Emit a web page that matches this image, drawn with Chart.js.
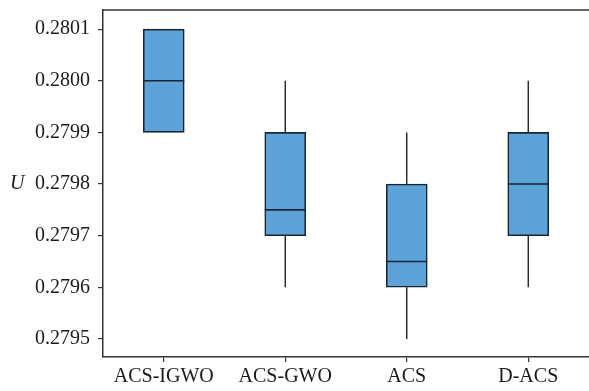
<!DOCTYPE html>
<html>
<head>
<meta charset="utf-8">
<script src="https://cdn.jsdelivr.net/npm/chart.js@4/dist/chart.umd.min.js"></script>
<style>
html,body{margin:0;padding:0;background:#fff;}
#wrap{width:589px;height:391px;position:relative;}
</style>
</head>
<body>
<div id="wrap"><canvas id="boxChart"></canvas></div>
<script>
const categories=["ACS-IGWO","ACS-GWO","ACS","D-ACS"];
const mins=[0.2799,0.2796,0.2795,0.2796];
const q1s=[0.2799,0.2797,0.2796,0.2797];
const medians=[0.2800,0.27975,0.27965,0.2798];
const q3s=[0.2801,0.2799,0.2798,0.2799];
const maxs=[0.2801,0.2800,0.2799,0.2800];
const yTicks=[0.2795,0.2796,0.2797,0.2798,0.2799,0.2800,0.2801];

const serif="'Liberation Serif','DejaVu Serif',serif";
const boxFill="#5ba3d9",boxEdge="#1c2430";

// whiskers + median lines, drawn through the chart scales
const boxExtras={
  id:'boxExtras',
  afterDatasetsDraw(chart){
    const ctx=chart.ctx,x=chart.scales.x,y=chart.scales.y;
    const meta=chart.getDatasetMeta(0);
    ctx.save();
    categories.forEach((c,i)=>{
      const cx=x.getPixelForValue(i),bar=meta.data[i],hw=bar.width/2;
      ctx.strokeStyle="#111";ctx.lineWidth=1.3;
      ctx.beginPath();
      ctx.moveTo(cx,y.getPixelForValue(q3s[i]));ctx.lineTo(cx,y.getPixelForValue(maxs[i]));
      ctx.moveTo(cx,y.getPixelForValue(q1s[i]));ctx.lineTo(cx,y.getPixelForValue(mins[i]));
      ctx.stroke();
      ctx.strokeStyle=boxEdge;ctx.lineWidth=1.6;
      const my=y.getPixelForValue(medians[i]);
      ctx.beginPath();ctx.moveTo(cx-hw,my);ctx.lineTo(cx+hw,my);ctx.stroke();
    });
    // y label
    ctx.fillStyle="#1a1a1a";ctx.font="italic 20px "+serif;
    ctx.textAlign="left";ctx.textBaseline="middle";
    ctx.fillText("U",10,(chart.chartArea.top+chart.chartArea.bottom)/2);
    // top frame line
    ctx.strokeStyle="#333";ctx.lineWidth=1.5;
    ctx.beginPath();ctx.moveTo(chart.chartArea.left,chart.chartArea.top);ctx.lineTo(chart.width,chart.chartArea.top);ctx.stroke();
    ctx.restore();
  }
};

new Chart(document.getElementById('boxChart').getContext('2d'),{
  type:'bar',
  data:{labels:categories,datasets:[{
    data:categories.map((c,i)=>[q1s[i],q3s[i]]),
    backgroundColor:boxFill,borderColor:boxEdge,borderWidth:1.6,borderSkipped:false,barThickness:41
  }]},
  options:{
    responsive:true,maintainAspectRatio:false,animation:false,
    layout:{padding:{top:10,right:-3,left:0,bottom:0}},
    plugins:{legend:{display:false},tooltip:{enabled:false}},
    scales:{
      x:{
        grid:{display:true,offset:false,drawOnChartArea:false,tickLength:5,color:"#333",lineWidth:1.2},
        border:{display:true,color:"#333",width:1.5},
        ticks:{color:"#1a1a1a",font:{family:serif,size:20},padding:3,maxRotation:0},
        afterFit(s){s.height=34;s.paddingLeft=0;s.paddingRight=0;}
      },
      y:{
        min:0.279465,max:0.280137,
        afterBuildTicks(s){s.ticks=yTicks.map(v=>({value:v}));},
        grid:{display:true,drawOnChartArea:false,tickLength:5,color:"#333",lineWidth:1.2},
        border:{display:true,color:"#333",width:1.5},
        ticks:{color:"#1a1a1a",font:{family:serif,size:20},padding:8,callback:v=>v.toFixed(4)},
        afterFit(s){s.width=103;s.paddingTop=0;s.paddingBottom=0;}
      }
    }
  },
  plugins:[boxExtras]
});
</script>
</body>
</html>
